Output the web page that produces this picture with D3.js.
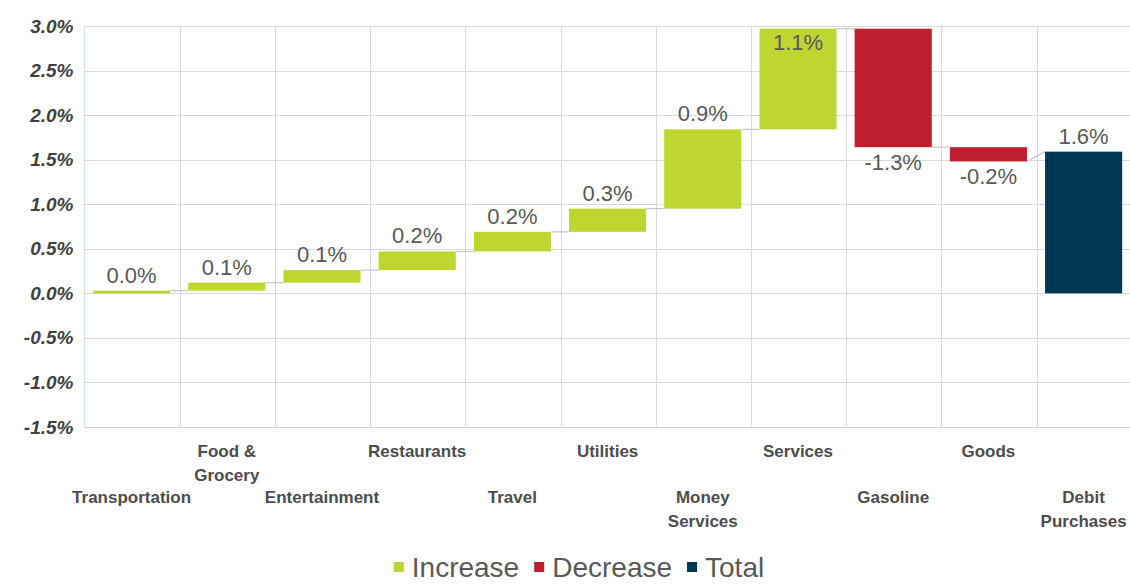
<!DOCTYPE html>
<html><head><meta charset="utf-8">
<script src="https://cdn.jsdelivr.net/npm/d3@7"></script>
<style>
  body { margin: 0; background: #fff; }
  svg { display: block; font-family: "Liberation Sans", Arial, sans-serif; }
</style>
</head><body>
<svg id="chart" width="1130" height="584"></svg>
<script>
// Categories, in column order
const categories = ["Transportation", "Food & Grocery", "Entertainment", "Restaurants", "Travel",
  "Utilities", "Money Services", "Services", "Gasoline", "Goods", "Debit Purchases"];
// Category names as they wrap under the axis
const categoryLines = [["Transportation"], ["Food &", "Grocery"], ["Entertainment"], ["Restaurants"],
  ["Travel"], ["Utilities"], ["Money", "Services"], ["Services"], ["Gasoline"], ["Goods"], ["Debit", "Purchases"]];
// Contribution of each category (percentage points); null marks the total column
const changes = [0.03, 0.09, 0.14, 0.21, 0.22, 0.26, 0.89, 1.13, -1.33, -0.16, null];
const totalValue = 1.59;
// Y axis ticks
const yTickValues = [-1.5, -1.0, -0.5, 0.0, 0.5, 1.0, 1.5, 2.0, 2.5, 3.0];
const yTickLabels = ["-1.5%", "-1.0%", "-0.5%", "0.0%", "0.5%", "1.0%", "1.5%", "2.0%", "2.5%", "3.0%"];
// Legend entries
const legendItems = ["Increase", "Decrease", "Total"];

const colors = { Increase: "#BED62F", Decrease: "#BE1E2D", Total: "#003755" };

// Build floating bar segments
let running = 0;
const bars = categories.map((c, i) => {
  if (changes[i] === null) {
    return { cat: c, lines: categoryLines[i], start: 0, end: totalValue, value: totalValue, kind: "Total" };
  }
  const start = running;
  running += changes[i];
  return { cat: c, lines: categoryLines[i], start, end: running, value: changes[i],
           kind: changes[i] >= 0 ? "Increase" : "Decrease" };
});

const svg = d3.select("#chart");
const plot = { left: 84.5, right: 1131.7, top: 26, bottom: 427 };

const x = d3.scaleBand().domain(categories).range([plot.left, plot.right]).padding(0);
const y = d3.scaleLinear().domain([-1.5, 3.0]).range([plot.bottom, plot.top]);
const bw = x.bandwidth();
const barW = bw * 0.81;
const barOff = (bw - barW) / 2 - 0.5;

// Gridlines
const grid = svg.append("g").attr("stroke", "#D9D9D9").attr("stroke-width", 1);
grid.selectAll("line.h").data(yTickValues).join("line")
  .attr("x1", plot.left).attr("x2", 1130)
  .attr("y1", d => Math.round(y(d)) + 0.5).attr("y2", d => Math.round(y(d)) + 0.5);
grid.selectAll("line.v").data(categories.slice(1)).join("line")
  .attr("x1", d => Math.round(x(d)) + 0.5).attr("x2", d => Math.round(x(d)) + 0.5)
  .attr("y1", plot.top).attr("y2", plot.bottom);

// Left axis line
svg.append("line")
  .attr("x1", plot.left).attr("x2", plot.left)
  .attr("y1", plot.top).attr("y2", plot.bottom + 0.5)
  .attr("stroke", "#C9E2F5").attr("stroke-width", 1.2);

// Y axis labels
const yAxis = d3.axisLeft(y).tickValues(yTickValues)
  .tickFormat((d, i) => yTickLabels[i]).tickSize(0).tickPadding(11);
const yg = svg.append("g").attr("transform", `translate(${plot.left},0)`).call(yAxis);
yg.select(".domain").remove();
yg.selectAll("text")
  .attr("font-family", "'Liberation Sans', Arial, sans-serif")
  .attr("font-size", 19).attr("font-weight", "bold").attr("font-style", "italic")
  .attr("fill", "#404040");

// Connectors between consecutive bars
const conn = svg.append("g").attr("stroke", "#C8C8C8").attr("stroke-width", 1.2);
bars.slice(0, -1).forEach((b, i) => {
  const nb = bars[i + 1];
  const fromY = y(b.end);
  const toY = nb.kind === "Total" ? y(nb.end) : y(nb.start);
  conn.append("line")
    .attr("x1", x(b.cat) + barOff + barW).attr("y1", fromY)
    .attr("x2", x(nb.cat) + barOff).attr("y2", toY);
});

// Bars
svg.append("g").selectAll("rect").data(bars).join("rect")
  .attr("x", d => x(d.cat) + barOff)
  .attr("width", barW)
  .attr("y", d => y(Math.max(d.start, d.end)))
  .attr("height", d => Math.abs(y(d.start) - y(d.end)))
  .attr("fill", d => colors[d.kind]);

// Value labels
const fmt = v => v.toFixed(1) + "%";
svg.append("g").selectAll("text").data(bars).join("text")
  .attr("x", d => x(d.cat) + bw / 2 - 0.5)
  .attr("y", d => {
    const top = y(Math.max(d.start, d.end));
    const bottom = y(Math.min(d.start, d.end));
    if (d.kind === "Decrease") return bottom + 7 + 16;
    // labels that would run above the plot sit inside the bar
    if (top - 8 - 16 < plot.top) return top + 5 + 16;
    return top - 8;
  })
  .attr("text-anchor", "middle")
  .attr("font-size", 22).attr("fill", "#595959")
  .text(d => fmt(d.value));

// Category labels, staggered on two rows
const xl = svg.append("g").attr("font-size", 17).attr("font-weight", "bold").attr("fill", "#4D4D4D")
  .attr("text-anchor", "middle");
bars.forEach((b, i) => {
  const y0 = i % 2 === 1 ? 451 : 497;
  const t = xl.append("text").attr("x", x(b.cat) + bw / 2 - 0.5).attr("y", y0);
  b.lines.forEach((ln, j) => {
    t.append("tspan").attr("x", x(b.cat) + bw / 2 - 0.5).attr("dy", j === 0 ? "0.35em" : 24).text(ln);
  });
});

// Legend
const lg = svg.append("g");
const items = lg.selectAll("g").data(legendItems).join("g");
items.append("rect").attr("width", 10).attr("height", 10).attr("y", 562).attr("fill", d => colors[d]);
items.append("text").attr("y", 567).attr("dy", "0.36em").attr("x", 18)
  .attr("font-size", 28).attr("fill", "#595959").text(d => d);
const widths = [];
items.each(function () {
  const w = d3.select(this).select("text").node().getComputedTextLength();
  widths.push(18 + w);
});
const totalW = d3.sum(widths) + 15 * (widths.length - 1);
let cx = 579 - totalW / 2;
items.each(function (d, i) {
  d3.select(this).attr("transform", `translate(${cx},0)`);
  cx += widths[i] + 15;
});
</script>
</body></html>
